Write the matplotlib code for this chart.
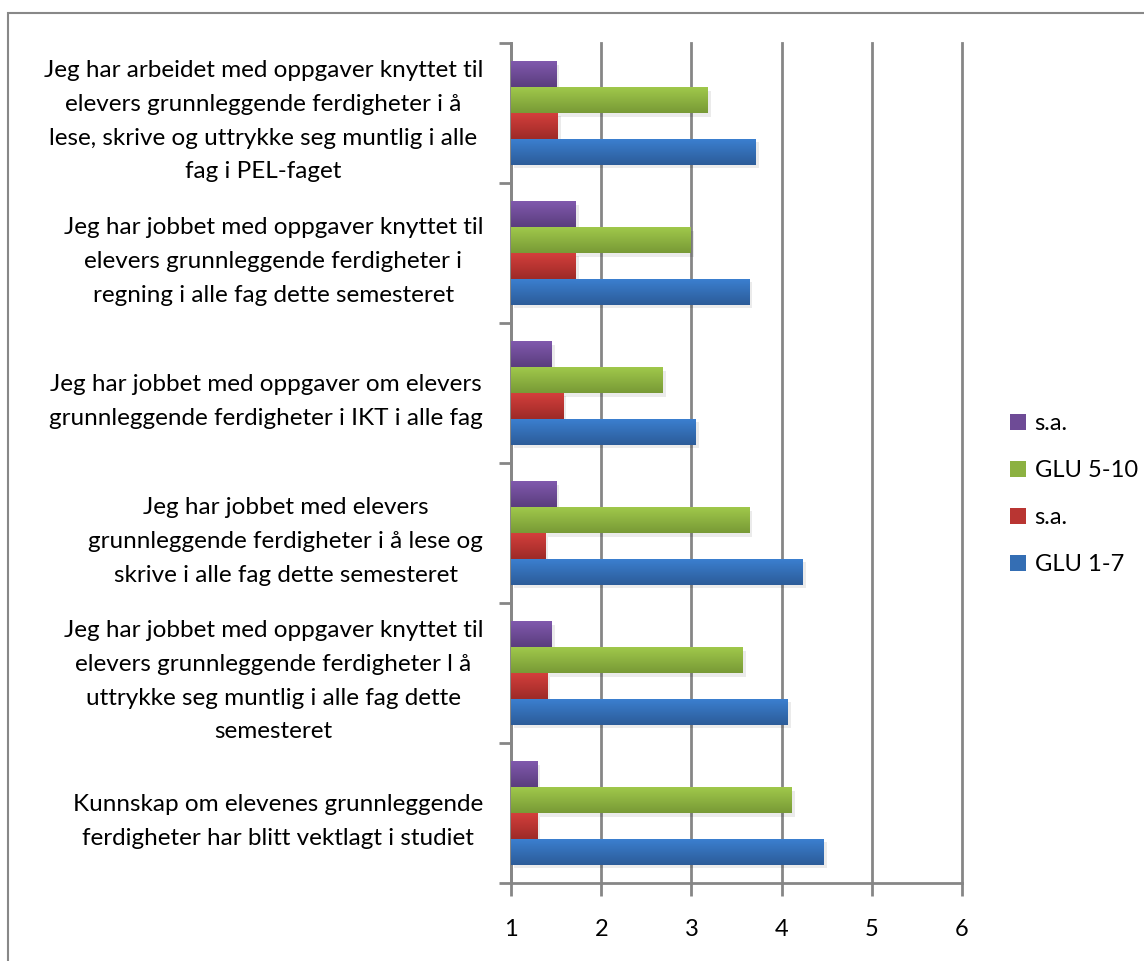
import numpy as np
import matplotlib.pyplot as plt
from matplotlib.colors import LinearSegmentedColormap, to_rgb
from matplotlib.patches import Rectangle
from matplotlib.lines import Line2D

plt.rcParams['font.family'] = ['Lato', 'DejaVu Sans']

# categories, bottom to top
categories = [
    "Kunnskap om elevenes grunnleggende\nferdigheter har blitt vektlagt i studiet",
    "Jeg har jobbet med oppgaver knyttet til\nelevers grunnleggende ferdigheter l å\nuttrykke seg muntlig i alle fag dette\nsemesteret",
    "Jeg har jobbet med elevers\ngrunnleggende ferdigheter i å lese og\nskrive i alle fag dette semesteret",
    "Jeg har jobbet med oppgaver om elevers\ngrunnleggende ferdigheter i IKT i alle fag",
    "Jeg har jobbet med oppgaver knyttet til\nelevers grunnleggende ferdigheter i\nregning i alle fag dette semesteret",
    "Jeg har arbeidet med oppgaver knyttet til\nelevers grunnleggende ferdigheter i å\nlese, skrive og uttrykke seg muntlig i alle\nfag i PEL-faget",
]
glu17 = [4.47, 4.07, 4.23, 3.05, 3.64, 3.71]
sa17 = [1.29, 1.40, 1.38, 1.58, 1.72, 1.52]
glu510 = [4.11, 3.57, 3.64, 2.68, 2.99, 3.18]
sa510 = [1.29, 1.45, 1.50, 1.45, 1.72, 1.50]

series = [
    ("GLU 1-7", glu17, "#3b7fcf", "#2c5c99"),
    ("s.a.", sa17, "#d33f3c", "#9e2a27"),
    ("GLU 5-10", glu510, "#a0c84b", "#789a36"),
    ("s.a.", sa510, "#8059ad", "#5b3d7e"),
]

fig = plt.figure(figsize=(11.44, 9.61), dpi=100)
ax = fig.add_axes([511/1144, 1-883/961, 451/1144, 840/961])

y = np.arange(len(categories))
h = 0.184
grid_c = "#868686"

handles = []
for i, (name, vals, top, bot) in enumerate(series):
    off = (i - 1.5) * h
    # soft shadow
    ax.barh(y + off - 0.025, np.array(vals) - 1, height=h, left=1.035,
            color="#000000", alpha=0.08, zorder=2, linewidth=0)
    bars = ax.barh(y + off, np.array(vals) - 1, height=h, left=1,
                   color=bot, zorder=3, linewidth=0)
    cmap = LinearSegmentedColormap.from_list(name + str(i), [top, bot])
    grad = np.linspace(0, 1, 64).reshape(-1, 1)
    for p in bars.patches:
        x0, y0 = p.get_x(), p.get_y()
        w, hh = p.get_width(), p.get_height()
        im = ax.imshow(grad, cmap=cmap, extent=[x0, x0 + w, y0, y0 + hh],
                       origin="upper", aspect="auto", zorder=4)
        im.set_clip_path(p)
    handles.append((name, top, bot))

ax.set_xlim(1, 6)
ax.set_ylim(-0.5, len(categories) - 0.5)

ax.set_xticks(range(1, 7))
ax.xaxis.grid(True, color=grid_c, linewidth=2, zorder=0)
ax.set_axisbelow(True)
for gl in ax.get_xgridlines():
    gl.set_clip_on(False)
ax.tick_params(axis="x", length=9, width=2, color=grid_c, pad=17, labelsize=17)

ax.set_yticks(y)
ax.set_yticklabels(categories, fontsize=17.5, linespacing=1.75, multialignment="center")
ax.set_yticks(np.arange(-0.5, len(categories), 1), minor=True)
ax.tick_params(axis="y", which="major", length=0, pad=20)
ax.tick_params(axis="y", which="minor", length=9, width=2, color=grid_c)

for s in ["top", "right"]:
    ax.spines[s].set_visible(False)
for s in ["left", "bottom"]:
    ax.spines[s].set_color(grid_c)
    ax.spines[s].set_linewidth(2)

leg_handles = [Line2D([], [], marker="s", linestyle="none", markersize=11,
                      markerfacecolor=(np.array(to_rgb(top)) + np.array(to_rgb(bot))) / 2,
                      markeredgewidth=0)
               for name, top, bot in handles[::-1]]
fig.legend(leg_handles, [n for n, t, b in handles[::-1]], loc="center left",
           bbox_to_anchor=(985/1144, 1-494/961), frameon=False, fontsize=17,
           labelspacing=1.1, handletextpad=0.2, handlelength=1.0)

fig.patches.append(Rectangle((8/1144, -0.01), 1.0, 1.01 - 13/961, transform=fig.transFigure,
                             fill=False, edgecolor="#888888", linewidth=1.5))

fig.savefig("out.png", dpi=100)
